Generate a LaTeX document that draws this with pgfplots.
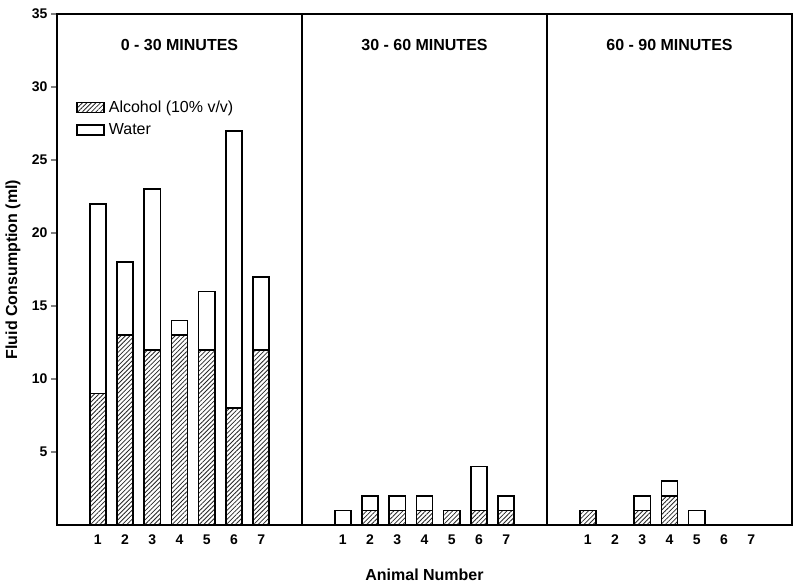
\documentclass[border=0pt]{standalone}
\usepackage{pgfplots}
\pgfplotsset{compat=1.18}
\usepackage{fontspec}
\setmainfont{Liberation Sans}
\usetikzlibrary{patterns,patterns.meta,calc}
\begin{document}
\begin{tikzpicture}
\begin{axis}[
  scale only axis,
  width=735pt, height=511pt,
  ybar stacked,
  bar width=0.59,
  xmin=-0.5, xmax=26.5,
  ymin=0, ymax=35,
  ytick={5,10,15,20,25,30,35},
  xtick={1,2,3,4,5,6,7,10,11,12,13,14,15,16,19,20,21,22,23,24,25},
  xticklabels={1,2,3,4,5,6,7,1,2,3,4,5,6,7,1,2,3,4,5,6,7},
  /pgf/number format/assume math mode=true,
  ticklabel style={font=\bfseries\fontsize{14}{16}\selectfont},
  xtick style={draw=none},
  ytick style={line width=1.5pt},
  tick align=outside,
  major tick length=6pt,
  xtick pos=bottom, ytick pos=left,
  axis line style={line width=2pt},
  extra x ticks={8.5,17.5},
  extra x tick labels={},
  extra x tick style={grid=major, major grid style={black, line width=2pt}, xtick style={draw=none}},
  xlabel={Animal Number},
  ylabel={Fluid Consumption (ml)},
  label style={font=\bfseries\fontsize{16}{18}\selectfont},
  xlabel style={at={(axis description cs:0.5,-0.098)}, anchor=center},
  ylabel style={at={(axis description cs:-0.060,0.5)}, anchor=center},
  every axis plot/.append style={draw=black, line width=1.6pt},
  legend style={draw=none, fill=none, at={(axis cs:0.2,29.2)}, anchor=north west,
    font=\fontsize{16}{18}\selectfont, row sep=6pt, inner sep=0pt,
    nodes={inner xsep=4pt}},
  legend cell align=left,
  legend image code/.code={\draw[#1, line width=1.6pt] (0pt,-5pt) rectangle (27pt,5pt);},
]
\addplot[pattern={Lines[angle=45,distance=3.2pt,line width=0.8pt]}, pattern color=black!85] coordinates {
 (1,9) (2,13) (3,12) (4,13) (5,12) (6,8) (7,12)
 (10,0) (11,1) (12,1) (13,1) (14,1) (15,1) (16,1)
 (19,1) (20,0) (21,1) (22,2) (23,0) (24,0) (25,0)};
\addplot[fill=white] coordinates {
 (1,13) (2,5) (3,11) (4,1) (5,4) (6,19) (7,5)
 (10,1) (11,1) (12,1) (13,1) (14,0) (15,3) (16,1)
 (19,0) (20,0) (21,1) (22,1) (23,1) (24,0) (25,0)};
\legend{Alcohol (10\% v/v), Water}
\node[font=\bfseries\fontsize{16}{18}\selectfont] at (axis cs:4,32.9) {0 - 30 MINUTES};
\node[font=\bfseries\fontsize{16}{18}\selectfont] at (axis cs:13,32.9) {30 - 60 MINUTES};
\node[font=\bfseries\fontsize{16}{18}\selectfont] at (axis cs:22,32.9) {60 - 90 MINUTES};
\end{axis}
\pgfresetboundingbox
\path[use as bounding box] ($(current axis.south west)+(-57pt,-63pt)$) rectangle ($(current axis.north east)+(8pt,14pt)$);
\end{tikzpicture}
\end{document}
